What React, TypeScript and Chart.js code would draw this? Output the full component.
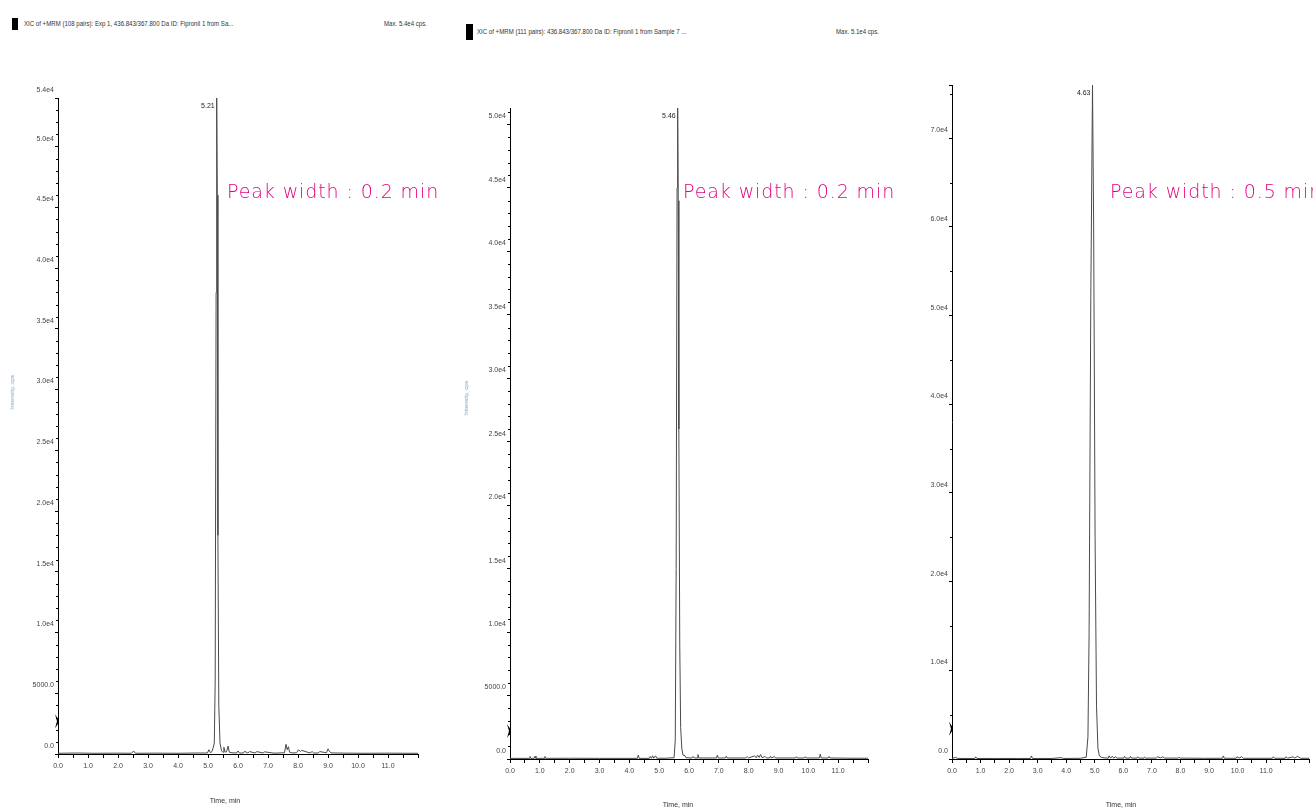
import React, { useEffect, useRef } from "react";
import { Chart, registerables } from "chart.js";

Chart.register(...registerables);

// ---------------- data ----------------
const p1Time = [0.0, 0.6, 1.2, 2.0, 2.45, 2.52, 2.58, 3.2, 4.0, 4.6, 4.98, 5.03, 5.08, 5.13, 5.17, 5.21, 5.24, 5.27, 5.29, 5.31, 5.33, 5.36, 5.40, 5.45, 5.50, 5.53, 5.57, 5.62, 5.67, 5.71, 5.80, 5.95, 6.0, 6.05, 6.18, 6.22, 6.33, 6.38, 6.58, 6.62, 6.84, 6.88, 7.2, 7.55, 7.6, 7.64, 7.68, 7.72, 7.8, 7.95, 8.02, 8.08, 8.12, 8.4, 8.47, 8.52, 8.68, 8.72, 8.95, 9.0, 9.04, 9.1, 9.6, 10.3, 11.0, 11.6, 12.0];
const p1Intensity = [60, 80, 60, 70, 60, 250, 60, 70, 60, 80, 80, 350, 100, 200, 500, 900, 6000, 38000, 54000, 46000, 18000, 4000, 900, 250, 150, 550, 150, 200, 650, 150, 100, 80, 250, 80, 80, 220, 80, 200, 80, 200, 80, 180, 70, 100, 800, 350, 600, 150, 90, 100, 350, 200, 300, 80, 200, 80, 80, 200, 100, 420, 250, 90, 70, 60, 70, 60, 60];

const p2Time = [0.0, 0.64, 0.67, 0.7, 0.81, 0.84, 0.87, 1.14, 1.17, 1.2, 2.0, 3.0, 4.27, 4.3, 4.33, 4.67, 4.7, 4.74, 4.78, 4.82, 4.88, 4.92, 5.2, 5.5, 5.54, 5.57, 5.60, 5.62, 5.64, 5.66, 5.69, 5.72, 5.76, 5.80, 5.87, 5.9, 6.1, 6.14, 6.18, 6.27, 6.3, 6.33, 6.92, 6.95, 6.98, 7.22, 7.25, 7.28, 7.9, 7.95, 8.0, 8.2, 8.25, 8.3, 8.35, 8.4, 8.45, 8.55, 8.6, 8.7, 8.73, 8.77, 8.86, 8.9, 9.57, 9.6, 9.63, 9.87, 9.9, 9.93, 10.37, 10.4, 10.43, 10.67, 10.7, 10.73, 11.5, 12.0];
const p2Intensity = [50, 50, 200, 50, 50, 220, 50, 50, 200, 50, 60, 50, 50, 300, 50, 50, 200, 60, 250, 60, 250, 60, 60, 100, 1500, 15000, 45000, 51300, 44000, 26000, 9000, 2500, 800, 300, 250, 100, 80, 200, 80, 80, 350, 80, 80, 300, 80, 80, 220, 80, 80, 180, 80, 250, 100, 300, 120, 350, 100, 200, 80, 80, 220, 80, 200, 80, 80, 180, 80, 80, 180, 80, 80, 380, 80, 80, 200, 80, 60, 60];

const p3Time = [0.0, 0.13, 0.2, 0.8, 0.83, 0.87, 1.5, 2.3, 2.75, 2.78, 2.82, 3.5, 3.82, 3.9, 4.5, 4.7, 4.76, 4.80, 4.86, 4.92, 4.96, 5.01, 5.06, 5.11, 5.16, 5.25, 5.47, 5.5, 5.55, 5.62, 5.66, 5.72, 5.78, 6.01, 6.04, 6.08, 6.22, 6.25, 6.29, 6.47, 6.5, 6.54, 6.72, 6.74, 6.78, 7.15, 7.2, 7.3, 7.38, 7.45, 7.92, 7.95, 8.0, 8.8, 9.47, 9.5, 9.54, 9.95, 9.98, 10.05, 10.14, 10.2, 11.22, 11.25, 11.3, 11.67, 11.7, 11.75, 11.94, 12.0, 12.1, 12.2, 12.5];
const p3Intensity = [60, 180, 60, 60, 250, 60, 60, 60, 60, 350, 60, 60, 150, 60, 80, 200, 2500, 14000, 52000, 76000, 60000, 25000, 6000, 1200, 350, 150, 100, 350, 120, 300, 100, 250, 100, 100, 300, 100, 100, 300, 100, 100, 250, 100, 100, 220, 100, 100, 250, 120, 250, 100, 100, 200, 100, 80, 80, 350, 80, 80, 250, 100, 250, 80, 80, 250, 80, 80, 250, 80, 250, 100, 300, 80, 80];

const peakLabels = ["5.21", "5.46", "4.63"];
const yMaxValues = [54000, 51300, 76000];
const yMajorSteps = [5000, 5000, 10000];
const yMinorSteps = [1000, 1000, 5000];
const yTopLabelShown = [true, false, true];
const xMaxValues = [12, 12, 12.5];
const xLastLabel = 11;
const thresholdValues = [2700, 2200, 3400];
const headerTitles = [
  "XIC of +MRM (108 pairs): Exp 1, 436.843/367.800 Da ID: Fipronil 1 from Sa...",
  "XIC of +MRM (111 pairs): 436.843/367.800 Da ID: Fipronil 1 from Sample 7 ...",
];
const headerMax = ["Max. 5.4e4 cps.", "Max. 5.1e4 cps."];
const peakWidthNotes = ["Peak width : 0.2 min", "Peak width : 0.2 min", "Peak width : 0.5 min"];
const xTitle = "Time, min";
const yTitle = "Intensity, cps";

// ---------------- helpers ----------------
const TICK_FONT = "'Liberation Sans Narrow', 'Liberation Sans', Arial, sans-serif";

function fmtY(v: number): string {
  if (v === 0) return "0.0";
  if (v < 10000) return v.toFixed(1);
  return (v / 10000).toFixed(1) + "e4";
}

function yTickList(max: number, step: number, top: boolean): number[] {
  const out: number[] = [];
  for (let v = 0; v <= max + 1e-6; v += step) out.push(v);
  if (top && out[out.length - 1] !== max) out.push(max);
  return out;
}

const decorPlugin = {
  id: "chromDecor",
  afterDraw(chart: any, _args: any, opts: any) {
    const { ctx } = chart;
    const x = chart.scales.x;
    const y = chart.scales.y;
    ctx.save();
    // minor y ticks
    ctx.strokeStyle = "#000";
    ctx.lineWidth = 1;
    ctx.beginPath();
    for (let v = 0; v <= y.max + 1e-6; v += opts.yMinor) {
      if (Math.abs(v % opts.yMajor) < 1e-6) continue;
      const py = Math.round(y.getPixelForValue(v)) + 0.5;
      ctx.moveTo(y.right - 2, py);
      ctx.lineTo(y.right, py);
    }
    ctx.stroke();
    // threshold marker
    const my = y.getPixelForValue(opts.threshold);
    const ax = y.right;
    ctx.fillStyle = "#000";
    ctx.beginPath();
    ctx.moveTo(ax - 3, my - 7);
    ctx.lineTo(ax + 1, my - 1);
    ctx.lineTo(ax + 1, my + 1);
    ctx.lineTo(ax - 3, my + 7);
    ctx.lineTo(ax - 1, my);
    ctx.closePath();
    ctx.fill();
    // peak label
    const ds = chart.data.datasets[0].data as { x: number; y: number }[];
    let best = ds[0];
    for (const pt of ds) if (pt.y > best.y) best = pt;
    const px = x.getPixelForValue(best.x);
    const py = y.getPixelForValue(best.y);
    ctx.font = `7px ${TICK_FONT}`;
    ctx.fillStyle = "#222";
    ctx.textAlign = "right";
    ctx.textBaseline = "middle";
    ctx.fillText(opts.label, px - 2, py + 8);
    ctx.restore();
  },
};

type PanelSpec = {
  time: number[];
  intensity: number[];
  yMax: number;
  yMajor: number;
  yMinor: number;
  yTicks: number[];
  xMax: number;
  threshold: number;
  label: string;
  cx: number;
  cy: number;
  cw: number;
  ch: number;
  yAxisW: number;
  padTop: number;
  padRight: number;
  xAxisH: number;
};

function ChromPanel({ p }: { p: PanelSpec }) {
  const ref = useRef<HTMLCanvasElement>(null);
  useEffect(() => {
    const canvas = ref.current!;
    const chart = new Chart(canvas, {
      type: "line",
      data: {
        datasets: [
          {
            data: p.time.map((t, i) => ({ x: t, y: p.intensity[i] })),
            borderColor: "#4a4a4a",
            borderWidth: 1,
            pointRadius: 0,
            tension: 0,
            fill: false,
          },
        ],
      },
      options: {
        animation: false,
        responsive: false,
        maintainAspectRatio: false,
        events: [],
        layout: { padding: { left: 0, top: p.padTop, right: p.padRight, bottom: 0 } },
        plugins: {
          legend: { display: false },
          tooltip: { enabled: false },
          chromDecor: { yMinor: p.yMinor, yMajor: p.yMajor, threshold: p.threshold, label: p.label },
        } as any,
        scales: {
          x: {
            type: "linear",
            min: 0,
            max: p.xMax,
            afterFit: (s: any) => {
              s.height = p.xAxisH;
            },
            ticks: {
              stepSize: 0.5,
              autoSkip: false,
              maxRotation: 0,
              minRotation: 0,
              padding: 4,
              color: "#444",
              font: { family: TICK_FONT, size: 7 },
              callback: (v: any) => {
                const n = Number(v);
                return Math.abs(n - Math.round(n)) < 1e-6 && n <= xLastLabel ? n.toFixed(1) : "";
              },
            },
            grid: { drawOnChartArea: false, drawTicks: true, tickLength: 4, color: "#000" },
            border: { display: true, color: "#000", width: 1 },
          },
          y: {
            type: "linear",
            min: 0,
            max: p.yMax,
            afterFit: (s: any) => {
              s.width = p.yAxisW;
            },
            afterBuildTicks: (s: any) => {
              s.ticks = p.yTicks.map((v) => ({ value: v }));
            },
            ticks: {
              labelOffset: -8,
              padding: 1,
              color: "#444",
              font: { family: TICK_FONT, size: 7 },
              callback: (v: any) => fmtY(Number(v)),
            },
            grid: { drawOnChartArea: false, drawTicks: true, tickLength: 3, color: "#000" },
            border: { display: true, color: "#000", width: 1 },
          },
        },
      } as any,
      plugins: [decorPlugin],
    });
    return () => chart.destroy();
  }, [p]);
  return (
    <canvas
      ref={ref}
      width={p.cw}
      height={p.ch}
      style={{ position: "absolute", left: p.cx, top: p.cy, width: p.cw, height: p.ch }}
    />
  );
}

const panels: PanelSpec[] = [
  {
    time: p1Time, intensity: p1Intensity, yMax: yMaxValues[0], yMajor: yMajorSteps[0], yMinor: yMinorSteps[0],
    yTicks: yTickList(yMaxValues[0], yMajorSteps[0], yTopLabelShown[0]), xMax: xMaxValues[0],
    threshold: thresholdValues[0], label: peakLabels[0],
    cx: 0, cy: 80, cw: 440, ch: 730, yAxisW: 58, padTop: 18, padRight: 22, xAxisH: 56,
  },
  {
    time: p2Time, intensity: p2Intensity, yMax: yMaxValues[1], yMajor: yMajorSteps[1], yMinor: yMinorSteps[1],
    yTicks: yTickList(yMaxValues[1], yMajorSteps[1], yTopLabelShown[1]), xMax: xMaxValues[1],
    threshold: thresholdValues[1], label: peakLabels[1],
    cx: 450, cy: 80, cw: 440, ch: 730, yAxisW: 60, padTop: 28, padRight: 22, xAxisH: 51,
  },
  {
    time: p3Time, intensity: p3Intensity, yMax: yMaxValues[2], yMajor: yMajorSteps[2], yMinor: yMinorSteps[2],
    yTicks: yTickList(yMaxValues[2], yMajorSteps[2], yTopLabelShown[2]), xMax: xMaxValues[2],
    threshold: thresholdValues[2], label: peakLabels[2],
    cx: 892, cy: 79, cw: 421, ch: 731, yAxisW: 60, padTop: 6, padRight: 0, xAxisH: 51,
  },
];

const smallText: React.CSSProperties = {
  position: "absolute",
  fontFamily: TICK_FONT,
  fontSize: 7,
  color: "#333",
  whiteSpace: "nowrap",
  lineHeight: "8px",
};

const headerText: React.CSSProperties = {
  ...smallText,
  transform: "scaleX(0.87)",
  transformOrigin: "left center",
};

const noteText: React.CSSProperties = {
  position: "absolute",
  fontFamily: "'DejaVu Sans', 'Noto Sans', sans-serif",
  fontWeight: 200,
  fontSize: 19,
  letterSpacing: "0.9px",
  color: "#e4007f",
  whiteSpace: "nowrap",
  lineHeight: "22px",
};

export default function App() {
  useEffect(() => {
    document.body.style.margin = "0";
  }, []);
  return (
    <div
      style={{
        position: "fixed",
        left: 0,
        top: 0,
        width: 1313,
        height: 810,
        overflow: "hidden",
        background: "#fff",
      }}
    >
      {panels.map((p, i) => (
        <ChromPanel key={i} p={p} />
      ))}

      {/* headers */}
      <div style={{ position: "absolute", left: 12, top: 18, width: 6, height: 12, background: "#000" }} />
      <div style={{ ...headerText, left: 24, top: 20 }}>{headerTitles[0]}</div>
      <div style={{ ...headerText, left: 384, top: 20 }}>{headerMax[0]}</div>
      <div style={{ position: "absolute", left: 466, top: 24, width: 7, height: 16, background: "#000" }} />
      <div style={{ ...headerText, left: 477, top: 28 }}>{headerTitles[1]}</div>
      <div style={{ ...headerText, left: 836, top: 28 }}>{headerMax[1]}</div>

      {/* y titles */}
      <div style={{ ...smallText, fontSize: 6, color: "#7ea6c8", left: 12, top: 392, transform: "translate(-50%,-50%) rotate(-90deg)" }}>{yTitle}</div>
      <div style={{ ...smallText, fontSize: 6, color: "#7ea6c8", left: 466, top: 398, transform: "translate(-50%,-50%) rotate(-90deg)" }}>{yTitle}</div>

      {/* x titles */}
      <div style={{ ...smallText, left: 225, top: 801, transform: "translate(-50%,-50%)" }}>{xTitle}</div>
      <div style={{ ...smallText, left: 678, top: 805, transform: "translate(-50%,-50%)" }}>{xTitle}</div>
      <div style={{ ...smallText, left: 1121, top: 805, transform: "translate(-50%,-50%)" }}>{xTitle}</div>

      {/* peak width notes */}
      <div style={{ ...noteText, left: 227, top: 180 }}>{peakWidthNotes[0]}</div>
      <div style={{ ...noteText, left: 683, top: 180 }}>{peakWidthNotes[1]}</div>
      <div style={{ ...noteText, left: 1110, top: 180 }}>{peakWidthNotes[2]}</div>
    </div>
  );
}
